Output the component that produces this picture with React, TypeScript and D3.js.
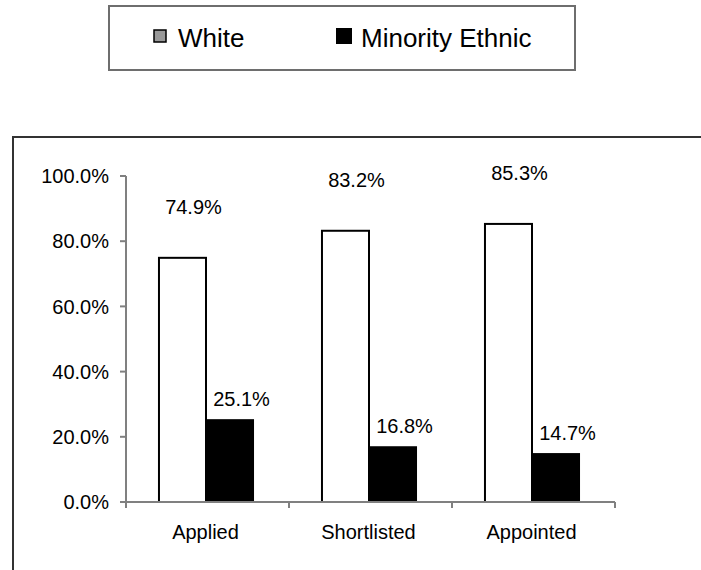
import React from 'react';
import * as d3 from 'd3';

const categories = ['Applied', 'Shortlisted', 'Appointed'];
const seriesNames = ['White', 'Minority Ethnic'];
const whiteValues = [74.9, 83.2, 85.3];
const minorityValues = [25.1, 16.8, 14.7];
const yTicks = [0, 20, 40, 60, 80, 100];

const font = 'Arial, "Liberation Sans", Helvetica, sans-serif';

const App: React.FC = () => {
  const width = 701;
  const height = 570;
  const plot = { left: 126, right: 615, top: 176, bottom: 502 };

  const x = d3
    .scaleBand<string>()
    .domain(categories)
    .range([plot.left, plot.right]);

  const groupW = x.bandwidth() * 0.577;
  const xs = d3
    .scaleBand<string>()
    .domain(seriesNames)
    .range([0, groupW]);

  const y = d3.scaleLinear().domain([0, 100]).range([plot.bottom, plot.top]);

  const fmt = (v: number) => v.toFixed(1) + '%';

  const bars = categories.flatMap((c, i) => [
    { cat: c, s: seriesNames[0], v: whiteValues[i] },
    { cat: c, s: seriesNames[1], v: minorityValues[i] },
  ]);

  return (
    <svg
      width={width}
      height={height}
      style={{ position: 'absolute', left: 0, top: 0, background: '#fff' }}
      fontFamily={font}
    >
      {/* legend */}
      <rect x={109} y={6} width={466} height={64} fill="#fff" stroke="#6e6e6e" strokeWidth={2} />
      <rect x={154} y={30} width={12} height={12} fill="#999" stroke="#000" strokeWidth={1.5} />
      <text x={178} y={47} fontSize={26} fill="#000">{seriesNames[0]}</text>
      <rect x={336} y={28} width={16} height={16} fill="#000" />
      <text x={361} y={47} fontSize={26} fill="#000">{seriesNames[1]}</text>

      {/* outer frame */}
      <rect x={13} y={137} width={720} height={460} fill="none" stroke="#333" strokeWidth={2} />

      {/* bars */}
      {bars.map((b, i) => {
        const bx = x(b.cat)! + (x.bandwidth() - groupW) / 2 - 1.5 + xs(b.s)!;
        const by = y(b.v);
        const isWhite = b.s === seriesNames[0];
        return (
          <g key={i}>
            <rect
              x={bx}
              y={by}
              width={xs.bandwidth()}
              height={plot.bottom - by}
              fill={isWhite ? '#fff' : '#000'}
              stroke="#000"
              strokeWidth={2}
            />
            <text
              x={bx + xs.bandwidth() / 2 + (isWhite ? 11 : 12)}
              y={by - (isWhite ? 44 : 14)}
              fontSize={20}
              textAnchor="middle"
              fill="#000"
            >
              {fmt(b.v)}
            </text>
          </g>
        );
      })}

      {/* y axis */}
      <line x1={plot.left} x2={plot.left} y1={plot.top} y2={plot.bottom} stroke="#808080" strokeWidth={2} />
      {yTicks.map((t) => (
        <g key={t}>
          <line x1={plot.left - 6} x2={plot.left} y1={y(t)} y2={y(t)} stroke="#808080" strokeWidth={2} />
          <text x={109} y={y(t)} dy="0.36em" fontSize={20} textAnchor="end" fill="#000">
            {fmt(t)}
          </text>
        </g>
      ))}

      {/* x axis */}
      <line x1={plot.left - 6} x2={plot.right} y1={plot.bottom} y2={plot.bottom} stroke="#808080" strokeWidth={2} />
      {[...categories.map((c) => x(c)!), plot.right].map((tx, i) => (
        <line key={i} x1={tx} x2={tx} y1={plot.bottom} y2={plot.bottom + 6} stroke="#808080" strokeWidth={2} />
      ))}
      {categories.map((c) => (
        <text key={c} x={x(c)! + x.bandwidth() / 2 - 2} y={539} fontSize={20} textAnchor="middle" fill="#000">
          {c}
        </text>
      ))}
    </svg>
  );
};

export default App;
